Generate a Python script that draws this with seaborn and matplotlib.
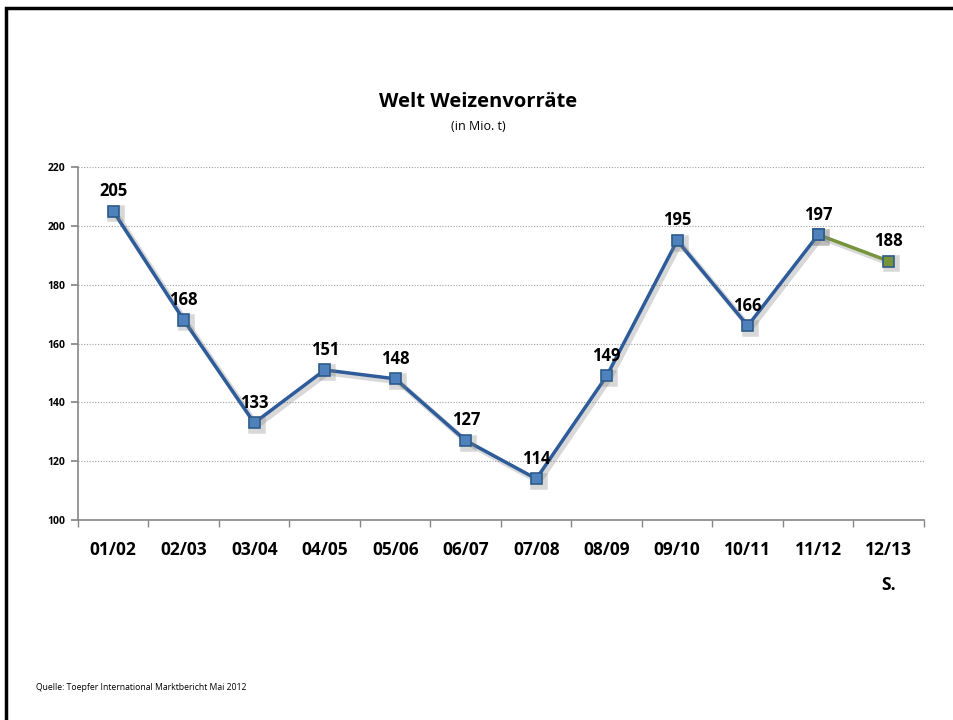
import matplotlib
matplotlib.use("Agg")
import matplotlib.pyplot as plt
import matplotlib.patheffects as pe
from matplotlib.patches import Rectangle
import seaborn as sns
import pandas as pd
import numpy as np

categories = ["01/02", "02/03", "03/04", "04/05", "05/06", "06/07",
              "07/08", "08/09", "09/10", "10/11", "11/12", "12/13\nS."]
values = [205, 168, 133, 151, 148, 127, 114, 149, 195, 166, 197, 188]
yticks = [100, 120, 140, 160, 180, 200, 220]
title = "Welt Weizenvorräte"
subtitle = "(in Mio. t)"
source = "Quelle: Toepfer International Marktbericht Mai 2012"

sns.set_theme(style="white")
plt.rcParams['font.family'] = ['Open Sans', 'DejaVu Sans']
plt.rcParams['text.color'] = 'black'
plt.rcParams['xtick.color'] = 'black'
plt.rcParams['ytick.color'] = 'black'

df = pd.DataFrame({"pos": np.arange(len(categories)), "val": values, "cat": categories})
main = df.iloc[:-1]
fore = df.iloc[-2:]

fig = plt.figure(figsize=(9.54, 7.2), dpi=100)
ax = fig.add_axes([78/954, 1-520/720, 846/954, 353/720])

shadow = [pe.SimpleLineShadow(offset=(2, -2), shadow_color="gray", alpha=0.3, linewidth=4), pe.Normal()]

sns.lineplot(data=fore, x="pos", y="val", ax=ax, color="#77933C", linewidth=2.5,
             marker="s", markersize=8, markerfacecolor="#77933C",
             markeredgecolor="#2E5C8A", markeredgewidth=1.2, path_effects=shadow, zorder=3)
sns.lineplot(data=main, x="pos", y="val", ax=ax, color="#2E5C9A", linewidth=2.5,
             marker="s", markersize=8, markerfacecolor="#4F81BD",
             markeredgecolor="#2E5C8A", markeredgewidth=1.2, path_effects=shadow, zorder=4)

for i, v in enumerate(values):
    ax.annotate(str(v), (i, v), xytext=(0, 8), textcoords="offset points",
                ha="center", va="bottom", fontsize=12, fontweight="bold", color="black", zorder=6)

ax.set_xlim(-0.5, len(categories) - 0.5)
ax.set_ylim(100, 220)
ax.set_yticks(yticks)
ax.set_yticklabels([str(t) for t in yticks], fontsize=7.5, fontweight="bold")
ax.set_xticks(np.arange(len(categories)))
ax.set_xticklabels(categories, fontsize=12.5, fontweight="bold", linespacing=2.2, va="top")
ax.set_xticks(np.arange(-0.5, len(categories)), minor=True)
ax.tick_params(axis="x", which="major", length=0, pad=15)
ax.tick_params(axis="x", which="minor", length=5, color="#868686", direction="out", bottom=True)
ax.tick_params(axis="y", length=5, color="#868686", direction="out", left=True, pad=4)
ax.set_xlabel("")
ax.set_ylabel("")
for y in yticks[1:]:
    ax.axhline(y, color="#A0A0A0", linestyle=(0, (1, 1.5)), linewidth=0.8, zorder=0)
for s in ["top", "right"]:
    ax.spines[s].set_visible(False)
for s in ["left", "bottom"]:
    ax.spines[s].set_color("#868686")
    ax.spines[s].set_linewidth(1.2)

fig.text(478/954, 1-102/720, title, ha="center", va="center", fontsize=14.5, fontweight="bold")
fig.text(478/954, 1-126/720, subtitle, ha="center", va="center", fontsize=9)
fig.text(36/954, 1-688/720, source, ha="left", va="center", fontsize=6.2)

fig.patches.append(Rectangle((6.5/954, -0.1), 1.2, 1 - 8/720 + 0.1, transform=fig.transFigure,
                             fill=False, edgecolor="black", linewidth=2.5))

fig.savefig("out.png", dpi=100)
